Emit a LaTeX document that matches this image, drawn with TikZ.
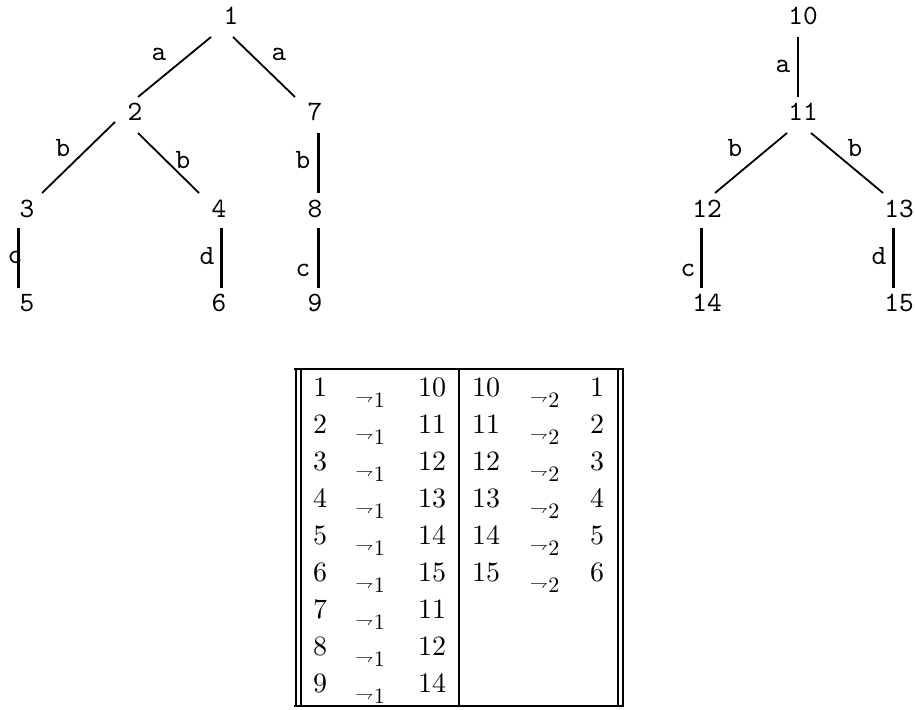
\RequirePackage{fix-cm}
\documentclass[tikz,border=0pt]{standalone}
\DeclareFontFamily{TU}{lmrten}{}
\DeclareFontShape{TU}{lmrten}{m}{n}{<-> \UnicodeFontFile{lmroman10-regular}{\UnicodeFontTeXLigatures}}{}
\DeclareFontFamily{TU}{lmtten}{\hyphenchar\font=-1}
\DeclareFontShape{TU}{lmtten}{m}{n}{<-> \UnicodeFontFile{lmmono10-regular}{}}{}
\newcommand{\hpsub}[1]{\raisebox{4.5pt}{$\scriptstyle\rightharpoondown$}\kern0.5pt{\fontsize{22}{26}\usefont{TU}{lmrten}{m}{n}#1}}
\begin{document}
\begin{tikzpicture}[x=1pt,y=-1pt,
  every node/.style={inner sep=0pt,outer sep=0pt},
  tn/.style={font=\fontsize{28}{34}\usefont{TU}{lmtten}{m}{n}},
  tx/.style={font=\fontsize{28}{34}\usefont{TU}{lmrten}{m}{n}},
  tm/.style={font=\fontsize{26}{30}\usefont{TU}{lmrten}{m}{n}},
  dedge/.style={line width=1.8pt},
  vedge/.style={line width=2.8pt},
  rule/.style={line width=2pt}]
\useasboundingbox (0,0) rectangle (915,709);
% ---------- left tree ----------
\node[tn] (n1) at (231,16) {1};
\node[tn] (n2) at (135,112) {2};
\node[tn] (n7) at (315,112) {7};
\node[tn] (n3) at (27,209) {3};
\node[tn] (n4) at (219,209) {4};
\node[tn] (n8) at (315,209) {8};
\node[tn] (n5) at (27,303) {5};
\node[tn] (n6) at (219,303) {6};
\node[tn] (n9) at (315,303) {9};
\draw[dedge] ([shift={(-20,21)}]n1.center) -- ([shift={(3,-15)}]n2.center);
\draw[dedge] ([shift={(2,21)}]n1.center) -- ([shift={(-20,-15)}]n7.center);
\draw[dedge] ([shift={(-20,10)}]n2.center) -- ([shift={(15,-16)}]n3.center);
\draw[dedge] ([shift={(3,21)}]n2.center) -- ([shift={(-20,-16)}]n4.center);
\draw[vedge] ([shift={(3.3,21)}]n7.center) -- ([shift={(3.3,-16)}]n8.center);
\draw[vedge] ([shift={(-8.7,19)}]n3.center) -- ([shift={(-8.7,-15)}]n5.center);
\draw[vedge] ([shift={(2.7,19)}]n4.center) -- ([shift={(2.7,-15)}]n6.center);
\draw[vedge] ([shift={(3.3,19)}]n8.center) -- ([shift={(3.3,-15)}]n9.center);
\node[tn] (l12) at (159,54) {a};
\node[tn] (l17) at (279,54) {a};
\node[tn] (l23) at (63,148) {b};
\node[tn] (l24) at (183,160) {b};
\node[tn] (l78) at (303,160) {b};
\node[tn] (l35) at (15,257) {c};
\node[tn] (l46) at (207,256) {d};
\node[tn] (l89) at (303,270) {c};
% ---------- right tree ----------
\node[tn] (n10) at (803,16) {10};
\node[tn] (n11) at (803,112) {11};
\node[tn] (n12) at (707,209) {12};
\node[tn] (n13) at (899,209) {13};
\node[tn] (n14) at (707,303) {14};
\node[tn] (n15) at (899,303) {15};
\draw[vedge] ([shift={(-5,21)}]n10.center) -- ([shift={(-5,-15)}]n11.center);
\draw[dedge] ([shift={(-16,21)}]n11.center) -- ([shift={(8,-16)}]n12.center);
\draw[dedge] ([shift={(8,21)}]n11.center) -- ([shift={(-16,-16)}]n13.center);
\draw[vedge] ([shift={(-5.5,19)}]n12.center) -- ([shift={(-5.5,-15)}]n14.center);
\draw[vedge] ([shift={(-5.5,19)}]n13.center) -- ([shift={(-5.5,-15)}]n15.center);
\node[tn] (l1011) at (783,66) {a};
\node[tn] (l1112) at (735,148) {b};
\node[tn] (l1113) at (855,148) {b};
\node[tn] (l1214) at (688,270) {c};
\node[tn] (l1315) at (879,256) {d};
% ---------- table ----------
\draw[rule] (294,369) -- (624,369);
\draw[rule] (294,706) -- (624,706);
\draw[rule] (296,369) -- (296,706);
\draw[rule] (301,369) -- (301,706);
\draw[rule] (459,369) -- (459,706);
\draw[rule] (618,369) -- (618,706);
\draw[rule] (623,369) -- (623,706);
\foreach \a/\b [count=\i] in {1/10,2/11,3/12,4/13,5/14,6/15,7/11,8/12,9/14} {
  \node[tx,anchor=base west] (La\i) at (313,{396+37.1*(\i-1)}) {\a};
  \node[tm,anchor=base west] (Lm\i) at (355.5,{407+37.1*(\i-1)}) {\hpsub{1}};
  \node[tx,anchor=base east] (Lb\i) at (446,{396+37.1*(\i-1)}) {\b};
}
\foreach \a/\b [count=\i] in {10/1,11/2,12/3,13/4,14/5,15/6} {
  \node[tx,anchor=base west] (Ra\i) at (472,{396+37.1*(\i-1)}) {\a};
  \node[tm,anchor=base west] (Rm\i) at (530,{407+37.1*(\i-1)}) {\hpsub{2}};
  \node[tx,anchor=base east] (Rb\i) at (604,{396+37.1*(\i-1)}) {\b};
}
\end{tikzpicture}
\end{document}
